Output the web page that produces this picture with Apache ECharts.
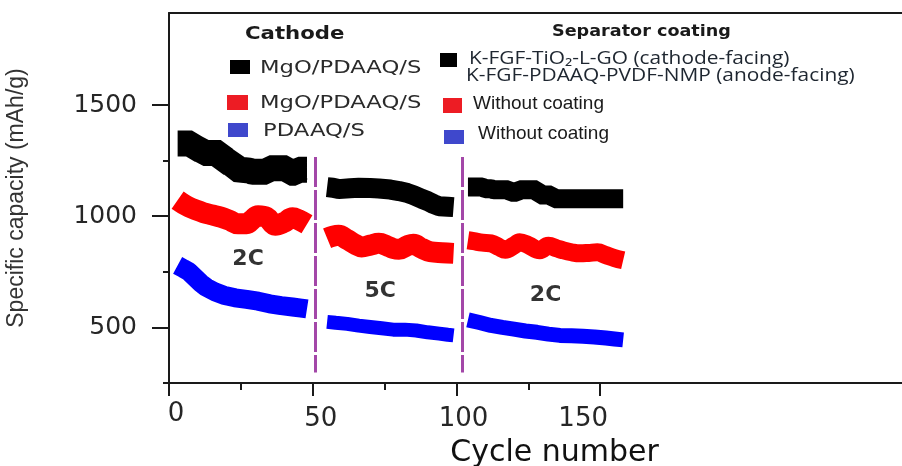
<!DOCTYPE html>
<html>
<head>
<meta charset="utf-8">
<script src="https://cdn.jsdelivr.net/npm/echarts@6/dist/echarts.min.js"></script>
<style>html,body{margin:0;padding:0;background:#fff}#c{width:902px;height:466px}</style>
</head>
<body>
<div id="c"></div>
<script>
// ---- Data ----
const blackCycles1 = [3, 8, 9, 11, 12, 18, 19, 22, 23, 28, 29, 34, 35, 41, 42, 44, 45, 48];
const blackValues1 = [1327, 1327, 1304, 1304, 1284, 1284, 1245, 1245, 1212, 1205, 1200, 1200, 1216, 1216, 1196, 1196, 1209, 1209];
const blackCycles2 = [55, 57, 59, 63, 66, 70, 73, 77, 80, 83, 85, 88, 90, 92, 94, 97, 99];
const blackValues2 = [1131, 1128, 1122, 1126, 1128, 1127, 1125, 1120, 1113, 1104, 1095, 1078, 1068, 1055, 1045, 1043, 1041];
const blackCycles3 = [104, 109, 110, 112, 113, 118, 119, 121, 122, 128, 129, 133, 134, 141, 148, 158];
const blackValues3 = [1131, 1131, 1124, 1124, 1119, 1119, 1108, 1108, 1119, 1119, 1095, 1095, 1079, 1079, 1079, 1079];

const redCycles1 = [3, 5, 7, 9, 12, 15, 18, 21, 24, 27, 29, 31, 34, 37, 40, 43, 45, 48];
const redValues1 = [1072, 1055, 1041, 1030, 1016, 1006, 996, 982, 966, 966, 985, 1002, 995, 960, 972, 993, 985, 964];
const redCycles2 = [55, 57, 59, 62, 65, 67, 70, 73, 76, 78, 80, 83, 85, 88, 91, 95, 99];
const redValues2 = [901, 910, 914, 895, 872, 862, 870, 878, 866, 855, 851, 868, 874, 855, 840, 836, 833];
const redCycles3 = [104, 106, 109, 112, 115, 117, 120, 122, 125, 129, 132, 135, 137, 140, 143, 146, 149, 152, 155, 158];
const redValues3 = [892, 888, 881, 878, 860, 849, 868, 883, 870, 847, 867, 855, 847, 838, 833, 835, 838, 825, 812, 802];

const blueCycles1 = [3, 5, 7, 9, 11, 13, 16, 19, 23, 27, 31, 35, 39, 43, 46, 48];
const blueValues1 = [779, 765, 750, 725, 700, 680, 660, 645, 633, 626, 618, 606, 598, 592, 587, 583];
const blueCycles2 = [55, 58, 62, 66, 70, 74, 78, 82, 86, 90, 94, 97, 99];
const blueValues2 = [525, 521, 516, 508, 502, 496, 490, 490, 486, 478, 472, 467, 464];
const blueCycles3 = [104, 108, 112, 116, 120, 124, 128, 132, 136, 140, 144, 148, 152, 155, 158];
const blueValues3 = [534, 522, 509, 500, 492, 484, 478, 470, 464, 462, 460, 457, 452, 448, 444];

const xMajorTicks = [0, 50, 100, 150];
const xMinorTicks = [25, 75, 125];
const yMajorTicks = [500, 1000, 1500];
const yMinorTicks = [250, 750, 1250];

const rateLabels = ['2C', '5C', '2C'];
const rateCycles = [27.5, 73.5, 131];
const rateValues = [806, 662, 644];

const dividerCycles = [51, 102];
const dividerTop = 1266;
const dividerBottom = 297;

const cathodeTitle = 'Cathode';
const separatorTitle = 'Separator coating';
const cathodeNames = ['MgO/PDAAQ/S', 'MgO/PDAAQ/S', 'PDAAQ/S'];
const separatorNames = ['K-FGF-TiO\u2082-L-GO (cathode-facing)', 'K-FGF-PDAAQ-PVDF-NMP (anode-facing)', 'Without coating', 'Without coating'];

// ---- Build ----
const zip = (xs, ys) => xs.map((x, i) => [x, ys[i]]);
const AX = '#1a1a1a';

function band(data, color, width, smooth) {
  return {
    type: 'line', data: data, showSymbol: false, symbol: 'none', smooth: smooth ? 0.4 : false,
    lineStyle: { color: color, width: width, cap: 'butt', join: 'bevel' },
    silent: true, z: 3
  };
}

const series = [
  band(zip(blackCycles1, blackValues1), '#000000', 26, false),
  band(zip(blackCycles2, blackValues2), '#000000', 20, false),
  band(zip(blackCycles3, blackValues3), '#000000', 19, false),
  band(zip(redCycles1, redValues1), '#ff0000', 21, true),
  band(zip(redCycles2, redValues2), '#ff0000', 21, true),
  band(zip(redCycles3, redValues3), '#ff0000', 18, true),
  band(zip(blueCycles1, blueValues1), '#0000ff', 19, false),
  band(zip(blueCycles2, blueValues2), '#0000ff', 14, false),
  band(zip(blueCycles3, blueValues3), '#0000ff', 15, false)
];

series[0].markLine = {
  symbol: 'none', silent: true, label: { show: false },
  lineStyle: { color: '#a347a8', width: 3, type: [30, 3] },
  data: dividerCycles.map(c => [{ coord: [c, dividerTop] }, { coord: [c, dividerBottom] }])
};

series.push({
  type: 'scatter', symbolSize: 0, silent: true, z: 5,
  data: rateLabels.map((t, i) => ({ name: t, value: [rateCycles[i], rateValues[i]] })),
  label: {
    show: true, position: 'inside', formatter: p => p.name,
    fontFamily: 'DejaVu Sans', fontWeight: 'bold', fontSize: 22, color: '#000'
  }
});

const xRich = {};
const xPad = { 0: [0, 0, 0, 14], 50: [5, 0, 0, 16], 100: [5, 0, 0, 14], 150: [5, 34, 0, 0] };
xMajorTicks.forEach(v => {
  xRich['p' + v] = { padding: xPad[v], fontSize: 26, fontFamily: 'DejaVu Sans', color: '#262626' };
});

function textEl(x, y, text, font, color, sx) {
  return { type: 'text', x: x, y: y, scaleX: sx || 1, silent: true,
    style: { text: text, font: font, fill: color, align: 'left', verticalAlign: 'middle' } };
}
function rectEl(x, y, w, h, color) {
  return { type: 'rect', shape: { x: x, y: y, width: w, height: h }, style: { fill: color }, silent: true };
}

const graphic = [
  textEl(245, 35, cathodeTitle, 'bold 17px "DejaVu Sans"', '#1a1a1a', 1.25),
  rectEl(230, 60, 20, 14, '#000000'),
  textEl(260, 68, cathodeNames[0], '18px "DejaVu Sans"', '#2a2a2a', 1.26),
  rectEl(227, 95, 21, 15, '#ed1c24'),
  textEl(260, 103, cathodeNames[1], '18px "DejaVu Sans"', '#2a2a2a', 1.26),
  rectEl(228, 123, 20, 14, '#3f48cc'),
  textEl(263, 131, cathodeNames[2], '18px "DejaVu Sans"', '#2a2a2a', 1.26),
  textEl(552, 32, separatorTitle, 'bold 16px "DejaVu Sans"', '#1a1a1a', 1.1),
  rectEl(440, 53, 17, 14, '#000000'),
  textEl(469, 59, separatorNames[0], '18px "Open Sans"', '#1e2630', 1.16),
  textEl(466, 76, separatorNames[1], '18px "Open Sans"', '#1e2630', 1.16),
  rectEl(443, 98, 19, 15, '#ed1c24'),
  textEl(473, 104, separatorNames[2], '19px "Liberation Sans"', '#1a1a1a', 1),
  rectEl(444, 130, 20, 14, '#3f48cc'),
  textEl(478, 134, separatorNames[3], '19px "Liberation Sans"', '#1a1a1a', 1)
];

const option = {
  animation: false,
  backgroundColor: '#ffffff',
  grid: { left: 169, right: 0, top: 13, bottom: 83, containLabel: false, outerBoundsMode: 'none' },
  xAxis: [
    {
      type: 'value', min: 0, max: 255, position: 'bottom',
      axisLine: { show: true, onZero: false, lineStyle: { color: AX, width: 2 } },
      axisTick: { show: true, customValues: xMajorTicks, length: 13, lineStyle: { color: AX, width: 2 } },
      axisLabel: { show: true, customValues: xMajorTicks, margin: 18,
        formatter: v => '{p' + v + '|' + v + '}', rich: xRich,
        fontSize: 26, fontFamily: 'DejaVu Sans', color: '#262626' },
      splitLine: { show: false },
      name: 'Cycle number', nameLocation: 'middle', nameGap: 55,
      nameTextStyle: { fontSize: 30, fontFamily: 'DejaVu Sans', color: '#111', padding: [0, 0, 0, 38] }
    },
    {
      type: 'value', min: 0, max: 255, position: 'bottom',
      axisLine: { show: false, onZero: false },
      axisTick: { show: true, customValues: xMinorTicks, length: 7, lineStyle: { color: AX, width: 2 } },
      axisLabel: { show: false }, splitLine: { show: false }
    },
    {
      type: 'value', min: 0, max: 255, position: 'top',
      axisLine: { show: true, onZero: false, lineStyle: { color: AX, width: 2 } },
      axisTick: { show: false }, axisLabel: { show: false }, splitLine: { show: false }
    }
  ],
  yAxis: [
    {
      type: 'value', min: 250, max: 1914, position: 'left',
      axisLine: { show: true, onZero: false, lineStyle: { color: AX, width: 2 } },
      axisTick: { show: true, customValues: yMajorTicks, length: 17, lineStyle: { color: AX, width: 2 } },
      axisLabel: { show: true, customValues: yMajorTicks, margin: 32, formatter: v => String(v),
        fontSize: 25, fontFamily: 'DejaVu Sans', color: '#262626' },
      splitLine: { show: false },
      name: 'Specific capacity (mAh/g)', nameLocation: 'middle', nameGap: 141,
      nameTextStyle: { fontSize: 23, fontFamily: '"Liberation Sans", Arial, sans-serif', color: '#333' }
    },
    {
      type: 'value', min: 250, max: 1914, position: 'left',
      axisLine: { show: false, onZero: false },
      axisTick: { show: true, customValues: yMinorTicks, length: 6, lineStyle: { color: AX, width: 2 } },
      axisLabel: { show: false }, splitLine: { show: false }
    }
  ],
  graphic: graphic,
  series: series
};

const chart = echarts.init(document.getElementById('c'), null, { renderer: 'canvas' });
chart.setOption(option);
</script>
</body>
</html>
